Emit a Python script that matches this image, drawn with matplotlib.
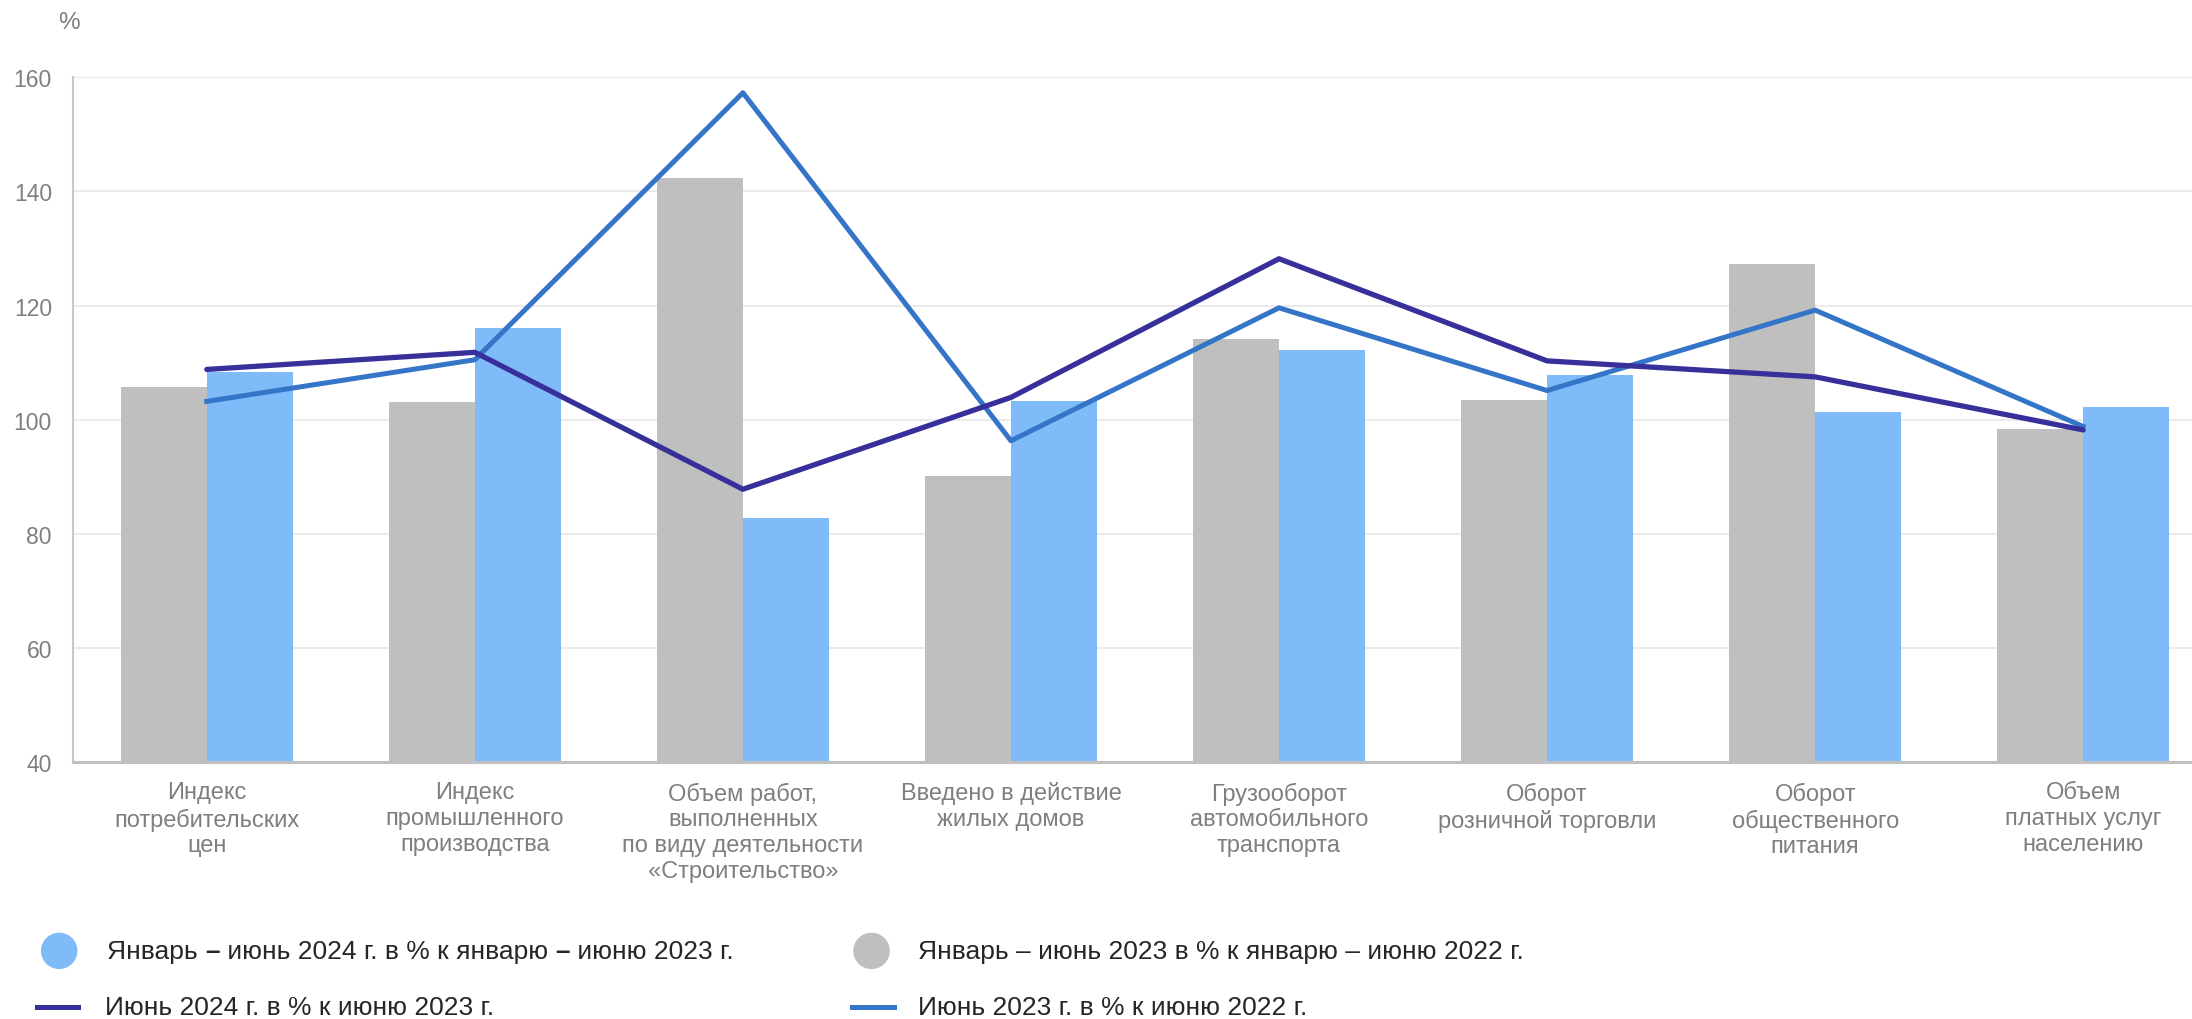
import matplotlib
matplotlib.use("Agg")
import matplotlib.pyplot as plt
import numpy as np
from matplotlib.lines import Line2D
from matplotlib.patches import Ellipse
from matplotlib.offsetbox import TextArea, HPacker, AnnotationBbox

categories = [
    "Индекс\nпотребительских\nцен",
    "Индекс\nпромышленного\nпроизводства",
    "Объем работ,\nвыполненных\nпо виду деятельности\n«Строительство»",
    "Введено в действие\nжилых домов",
    "Грузооборот\nавтомобильного\nтранспорта",
    "Оборот\nрозничной торговли",
    "Оборот\nобщественного\nпитания",
    "Объем\nплатных услуг\nнаселению",
]
h1_2023 = [105.8, 103.1, 142.4, 90.2, 114.2, 103.4, 127.2, 98.4]
h1_2024 = [108.4, 116.0, 82.8, 103.2, 112.2, 107.9, 101.3, 102.2]
june_2024 = [108.8, 111.8, 87.8, 103.9, 128.2, 110.3, 107.5, 98.2]
june_2023 = [103.2, 110.5, 157.3, 96.3, 119.6, 105.1, 119.2, 98.8]

# first label has bold dashes, so it is kept in pieces
label_h1_2024 = ["Январь ", "–", " июнь 2024 г. в % к январю ", "–", " июню 2023 г."]
label_h1_2023 = "Январь – июнь 2023 в % к январю – июню 2022 г."
label_june_2024 = "Июнь 2024 г. в % к июню 2023 г."
label_june_2023 = "Июнь 2023 г. в % к июню 2022 г."

plt.rcParams['font.family'] = ['Liberation Sans', 'DejaVu Sans']

c_gray = "#bfbfbf"
c_lblue = "#7fbaf9"
c_dark = "#38309a"
c_blue = "#3575c8"

fig = plt.figure(figsize=(21.92, 10.20), dpi=100)
ax = fig.add_axes([0.0332, 0.252, 0.9783, 0.6712])

x = np.arange(len(categories))
w = 0.32
ax.bar(x - w / 2, h1_2023, width=w, color=c_gray, zorder=2)
ax.bar(x + w / 2, h1_2024, width=w, color=c_lblue, zorder=2)
ax.plot(x, june_2023, color=c_blue, lw=3.6, zorder=3)
ax.plot(x, june_2024, color=c_dark, lw=3.8, zorder=4, solid_capstyle='round')

ax.set_xlim(-0.5, 7.5)
ax.set_ylim(40, 160)
ax.set_yticks(range(40, 161, 20))
ax.set_xticks(x)
ax.set_xticklabels(categories, fontsize=17, color="#7f7f7f", linespacing=1.22)
ax.tick_params(axis='y', length=0, pad=15, labelsize=16.5, labelcolor="#7f7f7f")
ax.tick_params(axis='x', length=0, pad=14)
ax.grid(axis='y', color="#ebebeb", lw=1.5, zorder=0)
ax.set_axisbelow(True)
for s in ['top', 'right']:
    ax.spines[s].set_visible(False)
ax.spines['left'].set_color("#c8c8c8")
ax.spines['left'].set_linewidth(1.5)
ax.spines['bottom'].set_color("#c0c0c0")
ax.spines['bottom'].set_linewidth(2.2)

fig.text(0.0265, 0.977, "%", fontsize=17.5, color="#7f7f7f", va='center', ha='left')

# legend
fs = 19
tc = "#262626"
y1, y2 = 0.0668, 0.0118
fig.add_artist(Ellipse((0.0270, y1), 0.016, 0.0343, color=c_lblue, transform=fig.transFigure))
parts = [TextArea(p, textprops=dict(fontsize=fs, color=tc,
                                    fontweight='bold' if p == "–" else 'normal'))
         for p in label_h1_2024]
box = HPacker(children=parts, align="baseline", pad=0, sep=0)
fig.add_artist(AnnotationBbox(box, (0.0490, y1), xycoords='figure fraction',
                              box_alignment=(0, 0.5), frameon=False, pad=0))
fig.add_artist(Ellipse((0.3976, y1), 0.016, 0.0343, color=c_gray, transform=fig.transFigure))
fig.text(0.4188, y1, label_h1_2023, fontsize=fs, color=tc, va='center')
fig.add_artist(Line2D([0.0168, 0.0357], [y2, y2], color=c_dark, lw=3.6, transform=fig.transFigure))
fig.text(0.0479, y2, label_june_2024, fontsize=fs, color=tc, va='center')
fig.add_artist(Line2D([0.3885, 0.4078], [y2, y2], color=c_blue, lw=3.6, transform=fig.transFigure))
fig.text(0.4188, y2, label_june_2023, fontsize=fs, color=tc, va='center')

fig.savefig("out.png", dpi=100)
